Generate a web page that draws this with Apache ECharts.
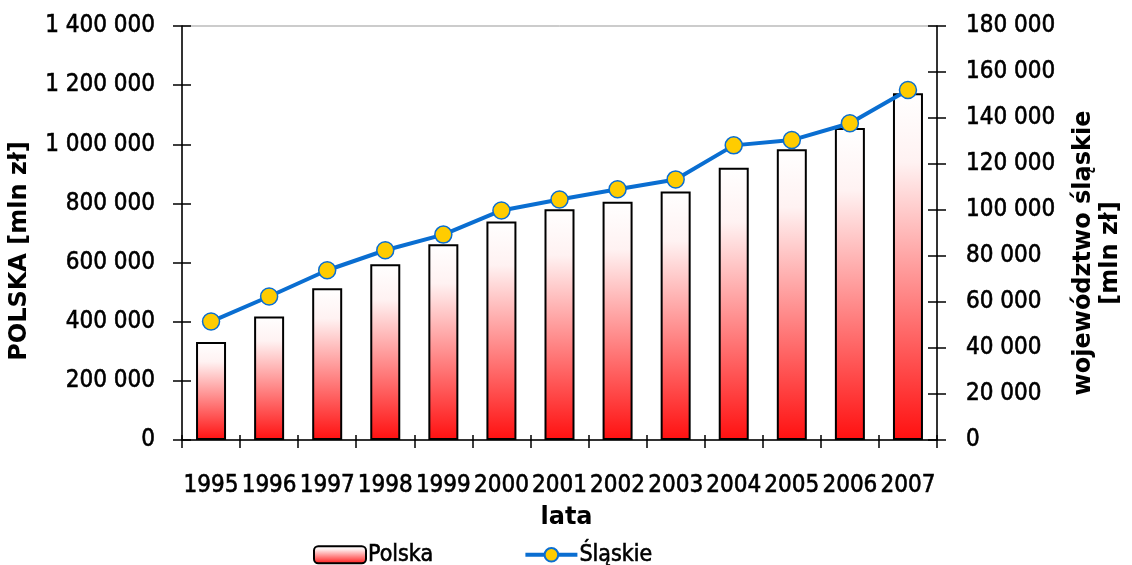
<!DOCTYPE html>
<html>
<head>
<meta charset="utf-8">
<script src="https://cdn.jsdelivr.net/npm/echarts@6/dist/echarts.min.js"></script>
<style>html,body{margin:0;padding:0;background:#fff}#c{width:1132px;height:565px}</style>
</head>
<body>
<div id="c"></div>
<script>
const years = ['1995','1996','1997','1998','1999','2000','2001','2002','2003','2004','2005','2006','2007'];
const polska = [331000, 418000, 513000, 594000, 662000, 739000, 780000, 806000, 840000, 921000, 983000, 1055000, 1173000];
const slaskie = [51500, 62400, 73800, 82500, 89300, 99800, 104600, 109000, 113300, 128100, 130400, 137700, 152200];
const leftTicks = {min: 0, max: 1400000, interval: 200000};
const rightTicks = {min: 0, max: 180000, interval: 20000};

const FONT = 'DejaVu Sans Condensed';
const BFONT = 'DejaVu Sans';
const fmt = v => String(v).replace(/\B(?=(\d{3})+(?!\d))/g, ' ');
const chart = echarts.init(document.getElementById('c'));
const barGrad = new echarts.graphic.LinearGradient(0, 0, 0, 1, [
  {offset: 0, color: '#ffffff'},
  {offset: 0.2, color: '#fff2f2'},
  {offset: 1, color: '#ff1010'}
]);
const tickStyle = {color: '#000', width: 1.5};
const lbl = {fontSize: 24, color: '#000', fontFamily: FONT, textBorderColor: '#000', textBorderWidth: 0.6};
const ttl = {fontFamily: BFONT, fontWeight: 'bold', fontSize: 24, color: '#000'};
chart.setOption({
  animation: false,
  textStyle: {fontFamily: FONT},
  grid: {left: 182, right: 187, top: 26, bottom: 125, show: true, borderColor: '#999', borderWidth: 1, backgroundColor: 'transparent'},
  legend: {
    left: 308, top: 538, itemWidth: 52, itemHeight: 17, itemGap: 90,
    textStyle: {fontFamily: FONT, fontSize: 23, color: '#000', textBorderColor: '#000', textBorderWidth: 0.6, padding: [0,0,0,-3]},
    data: [
      {name: 'Polska'},
      {name: 'Śląskie', lineStyle: {width: 4}}
    ]
  },
  xAxis: [{
    type: 'category', data: years,
    name: 'lata', nameLocation: 'middle', nameGap: 66,
    nameTextStyle: Object.assign({}, ttl, {padding: [0,0,0,14]}),
    axisLine: {lineStyle: {color: '#000', width: 1.5}},
    axisTick: {show: true, length: 8, lineStyle: tickStyle},
    axisLabel: Object.assign({interval: 0, margin: 34, hideOverlap: false}, lbl),
    splitLine: {show: false}
  }, {
    type: 'category', data: years, position: 'bottom',
    axisLine: {show: false}, axisLabel: {show: false},
    axisTick: {show: true, inside: true, length: 5, lineStyle: tickStyle}
  }],
  yAxis: [{
    type: 'value', position: 'left', ...leftTicks,
    name: 'POLSKA [mln zł]', nameLocation: 'middle', nameRotate: 90, nameGap: 150,
    nameTextStyle: Object.assign({}, ttl, {padding: [0, 36, 0, 0]}),
    axisLine: {show: true, lineStyle: {color: '#000', width: 1.5}},
    axisTick: {show: true, length: 9, lineStyle: tickStyle},
    axisLabel: Object.assign({margin: 27, formatter: fmt}, lbl),
    splitLine: {show: false}
  }, {
    type: 'value', position: 'right', ...rightTicks,
    name: 'województwo śląskie\n[mln zł]', nameLocation: 'middle', nameRotate: 90, nameGap: 133,
    nameTextStyle: Object.assign({}, ttl, {lineHeight: 27, align: 'center', padding: [0, 40, 0, 0]}),
    axisLine: {show: true, lineStyle: {color: '#000', width: 1.5}},
    axisTick: {show: true, length: 9, lineStyle: tickStyle},
    axisLabel: Object.assign({margin: 29, formatter: fmt}, lbl),
    splitLine: {show: false}
  }, {
    type: 'value', position: 'left', ...leftTicks,
    axisLine: {show: false}, axisLabel: {show: false}, splitLine: {show: false},
    axisTick: {show: true, inside: true, length: 9, lineStyle: tickStyle}
  }, {
    type: 'value', position: 'right', ...rightTicks,
    axisLine: {show: false}, axisLabel: {show: false}, splitLine: {show: false},
    axisTick: {show: true, inside: true, length: 9, lineStyle: tickStyle}
  }],
  series: [{
    name: 'Polska', type: 'bar', data: polska, yAxisIndex: 0, xAxisIndex: 0,
    barWidth: 30,
    itemStyle: {color: barGrad, borderColor: '#000', borderWidth: 2}
  }, {
    name: 'Śląskie', type: 'line', data: slaskie, yAxisIndex: 1, xAxisIndex: 0,
    symbol: 'circle', symbolSize: 17,
    lineStyle: {color: '#0a6ed1', width: 4},
    itemStyle: {color: '#ffcc00', borderColor: '#0a6ed1', borderWidth: 1.5}
  }]
});
</script>
</body>
</html>
